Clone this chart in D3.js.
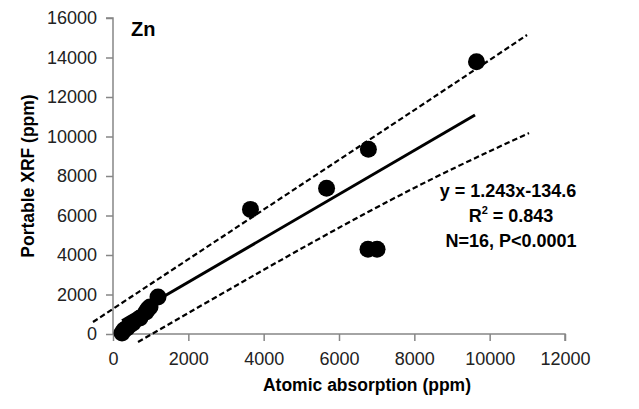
<!DOCTYPE html>
<html><head><meta charset="utf-8">
<script src="https://cdn.jsdelivr.net/npm/d3@7"></script>
<style>body{margin:0;background:#fff;} svg{display:block;font-family:"Liberation Sans",Arial,sans-serif;}</style>
</head><body>
<svg id="c" width="639" height="409"></svg>
<script>
// Data
const xValues = [9650, 6780, 5670, 3650, 6770, 7010, 1195, 982, 930, 876, 717, 531, 451, 372, 292, 239];
const yValues = [13780, 9350, 7380, 6310, 4290, 4290, 1873, 1367, 1266, 1114, 810, 557, 456, 304, 203, 51];
const fitX = [240, 9611];
const fitY = [668, 11088];
const upperX = [-531, 6716, 10992];
const upperY = [607, 9720, 15138];
const lowerX = [664, 6770, 11045];
const lowerY = [-405, 6176, 10177];
const xTicks = [0, 2000, 4000, 6000, 8000, 10000, 12000];
const yTicks = [0, 2000, 4000, 6000, 8000, 10000, 12000, 14000, 16000];
const eqLines = ["y = 1.243x-134.6", "R2 = 0.843", "N=16, P<0.0001"];

const svg = d3.select("#c");
const x = d3.scaleLinear().domain([0, 12000]).range([113, 565]);
const y = d3.scaleLinear().domain([0, 16000]).range([334, 18]);
const axisCol = "#868686";

const xa = svg.append("g").attr("transform", "translate(0,334)")
  .call(d3.axisBottom(x).tickValues(xTicks).tickSize(7).tickPadding(11).tickFormat(d3.format("d")));
const ya = svg.append("g").attr("transform", "translate(113,0)")
  .call(d3.axisLeft(y).tickValues(yTicks).tickSize(7).tickPadding(9).tickFormat(d3.format("d")));
[xa, ya].forEach(a => {
  a.select(".domain").attr("stroke", axisCol).attr("stroke-width", 1.5);
  a.selectAll(".tick line").attr("stroke", axisCol).attr("stroke-width", 1.5);
  a.selectAll(".tick text").attr("fill", "#222").style("font-size", "18px")
   .style("font-family", '"Liberation Sans",Arial,sans-serif');
});
ya.select(".domain").attr("d", `M-7,${y(16000)}H0V${y(0)}`);
xa.select(".domain").attr("d", `M${x(0)},0H${x(12000)}V7`);

const band = d3.line().x(d => x(d[0])).y(d => y(d[1])).curve(d3.curveNatural);
const line = d3.line().x(d => x(d[0])).y(d => y(d[1]));
svg.append("path").datum(d3.zip(upperX, upperY)).attr("d", band)
  .attr("fill", "none").attr("stroke", "#000").attr("stroke-width", 2.2).attr("stroke-dasharray", "5.5,3");
svg.append("path").datum(d3.zip(lowerX, lowerY)).attr("d", band)
  .attr("fill", "none").attr("stroke", "#000").attr("stroke-width", 2.2).attr("stroke-dasharray", "5.5,3");
svg.append("path").datum(d3.zip(fitX, fitY)).attr("d", line)
  .attr("fill", "none").attr("stroke", "#000").attr("stroke-width", 3);

svg.append("g").selectAll("circle").data(d3.zip(xValues, yValues)).join("circle")
  .attr("cx", d => x(d[0])).attr("cy", d => y(d[1])).attr("r", 8.5).attr("fill", "#000");

svg.append("text").attr("x", 131).attr("y", 36).attr("font-weight", "bold").attr("font-size", 20).text("Zn");

const eq = svg.append("g").attr("font-weight", "bold").attr("font-size", 18).attr("text-anchor", "middle");
eq.append("text").attr("x", 508).attr("y", 197).text(eqLines[0]);
const r2 = eq.append("text").attr("x", 511).attr("y", 222);
r2.append("tspan").text(eqLines[1].slice(0,1));
r2.append("tspan").attr("dy", -8).attr("font-size", 11).text(eqLines[1].slice(1,2));
r2.append("tspan").attr("dy", 8).text(eqLines[1].slice(2));
eq.append("text").attr("x", 511).attr("y", 247).text(eqLines[2]);

svg.append("text").attr("x", 367).attr("y", 391).attr("text-anchor", "middle")
  .attr("font-weight", "bold").attr("font-size", 17.5).text("Atomic absorption (ppm)");
svg.append("text").attr("transform", "translate(34,176) rotate(-90)").attr("text-anchor", "middle")
  .attr("font-weight", "bold").attr("font-size", 17.5).text("Portable XRF (ppm)");
</script>
</body></html>
